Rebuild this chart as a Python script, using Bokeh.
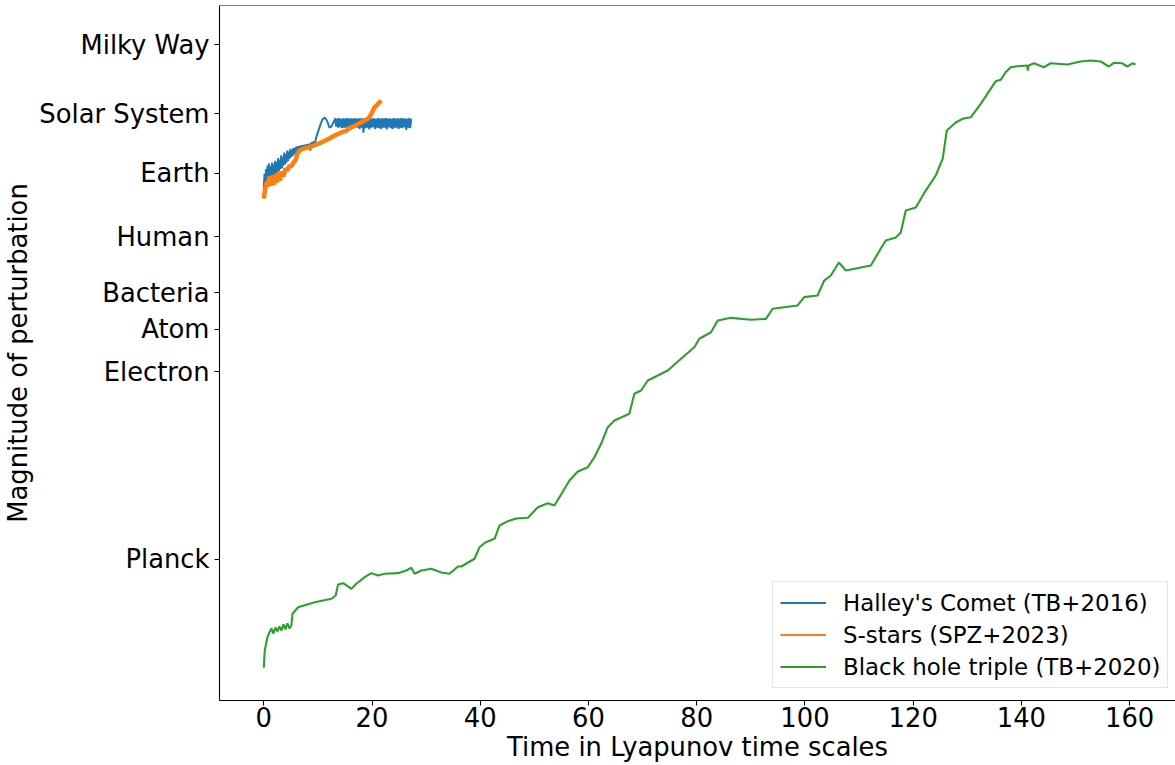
from bokeh.plotting import figure
from bokeh.models import Range1d, FixedTicker, Span
from bokeh.embed import file_html
from bokeh.resources import INLINE

# ---- axis ticks (y in log10 of length in metres) ----
y_tick_values = [-34.79, -14.46, -9.87, -5.87, 0.20, 7.03, 13.49, 21.0]
y_tick_labels = ["Planck", "Electron", "Atom", "Bacteria", "Human", "Earth",
                 "Solar System", "Milky Way"]
x_tick_values = [0, 20, 40, 60, 80, 100, 120, 140, 160]

# ---- Halley's Comet (TB+2016) ----
halley_x = [0.00, 0.14, 0.28, 0.42, 0.56, 0.70, 0.84, 0.98, 1.12, 1.26, 1.40, 1.54,
            1.68, 1.82, 1.96, 2.10, 2.24, 2.38, 2.52, 2.66, 2.80, 2.94, 3.08, 3.22,
            3.36, 3.50, 3.64, 3.78, 3.92, 4.06, 4.20, 4.34, 4.48, 4.62, 4.76, 4.90,
            5.04, 5.18, 5.32, 5.46, 5.60, 5.74, 5.88, 6.02,
            6.20, 6.40, 6.60, 6.80, 7.00, 7.20, 7.40, 7.60, 7.80, 8.00, 8.20, 8.40,
            8.60, 8.80, 9.00, 9.20, 9.40,
            9.73, 10.10, 10.47, 10.84, 11.26, 11.67, 12.13, 12.50, 13.05,
            13.20, 13.38, 13.56, 13.74, 13.92, 14.10, 14.28, 14.46, 14.64, 14.82,
            15.00, 15.18, 15.36, 15.54, 15.72, 15.90, 16.08, 16.26, 16.44, 16.62,
            16.80, 16.98, 17.16, 17.34, 17.52, 17.70, 17.88, 18.06, 18.24, 18.42,
            18.60, 18.78, 18.96, 19.14, 19.32, 19.50, 19.68, 19.86, 20.04, 20.22,
            20.40, 20.58, 20.76, 20.94, 21.12, 21.30, 21.48, 21.66, 21.84, 22.02,
            22.20, 22.38, 22.56, 22.74, 22.92, 23.10, 23.28, 23.46, 23.64, 23.82,
            24.00, 24.18, 24.36, 24.54, 24.72, 24.90, 25.08, 25.26, 25.44, 25.62,
            25.80, 25.98, 26.16, 26.34, 26.52, 26.70, 26.88, 27.06, 27.24]
halley_y = [5.40, 7.00, 6.00, 7.50, 6.30, 7.90, 6.40, 8.10, 6.60, 7.80, 6.50, 8.20,
            6.80, 8.00, 6.90, 8.40, 7.00, 8.30, 7.10, 8.70, 7.30, 8.50, 7.50, 9.00,
            7.60, 8.80, 7.90, 9.30, 8.00, 9.10, 8.20, 9.50, 8.40, 9.40, 8.60, 9.70,
            8.80, 9.60, 8.90, 9.80, 9.10, 9.80, 9.20, 9.95,
            9.40, 10.00, 9.50, 10.05, 9.60, 10.10, 9.70, 10.15, 9.70, 10.20, 9.80, 10.25,
            9.50, 10.40, 10.00, 10.50, 10.20,
            11.03, 11.68, 12.33, 12.88, 13.09, 12.77, 12.01, 12.12, 12.77,
            13.00, 12.10, 12.98, 12.00, 13.02, 12.05, 12.96, 11.95, 13.00, 12.00,
            12.98, 12.00, 13.03, 12.10, 12.97, 11.85, 13.00, 12.00, 12.98, 11.95,
            13.02, 12.05, 12.96, 12.00, 13.00, 11.85, 12.98, 12.00, 13.02, 11.45,
            12.95, 11.95, 13.00, 12.00, 12.97, 11.80, 13.02, 12.00, 12.98, 12.05,
            13.00, 11.85, 12.96, 12.00, 13.03, 11.95, 12.98, 11.85, 13.00, 12.00,
            12.97, 12.00, 13.02, 11.80, 12.98, 12.05, 13.00, 11.95, 12.96, 11.85,
            13.03, 12.00, 12.98, 12.00, 13.00, 11.85, 12.97, 12.00, 13.02, 11.95,
            12.98, 12.05, 13.00, 11.75, 12.96, 12.00, 13.02, 11.95, 12.98]

# ---- S-stars (SPZ+2023) ----
sstars_x = [0.00, 0.22, 0.50, 0.78, 1.05, 1.33, 1.61, 1.88, 2.16, 2.44, 2.71, 2.99,
            3.27, 3.64, 4.01, 4.37, 4.74, 5.11, 5.48, 5.85, 6.22, 6.59, 7.33, 8.07,
            8.80, 10.04, 11.02, 12.13, 13.11, 14.34, 15.27, 16.19, 17.30, 18.64, 19.33,
            19.88, 20.49, 20.99, 21.36, 21.73]
sstars_y = [4.32, 5.18, 6.05, 5.62, 6.70, 5.72, 6.81, 5.83, 6.92, 6.05, 7.13, 6.27,
            7.24, 6.70, 7.57, 7.35, 7.89, 7.78, 8.22, 8.43, 9.19, 9.52, 9.73, 9.84,
            9.95, 10.24, 10.49, 10.82, 11.14, 11.47, 11.68, 12.04, 12.33, 12.77, 12.98,
            13.49, 14.21, 14.50, 14.72, 14.93]

# ---- Black hole triple (TB+2020) ----
bht_x = [0.00, 0.18, 0.68, 1.05, 1.42, 1.79, 2.16, 2.53, 2.90, 3.27, 3.64, 4.01,
         4.37, 4.74, 5.11, 5.30, 6.35, 9.41, 12.50, 13.29, 13.73, 14.66, 15.58, 16.19,
         17.11, 18.64, 19.88, 21.12, 22.34, 24.81, 26.34, 27.26, 27.87, 29.11, 30.96,
         32.80, 34.33, 35.88, 36.49, 38.95, 39.87, 40.92, 42.64, 43.56, 45.11, 46.65,
         48.80, 50.65, 52.50, 53.71, 54.64, 56.48, 58.03, 59.88, 61.10, 62.33, 63.57,
         64.79, 67.56, 68.48, 69.72, 70.96, 74.65, 77.10, 79.56, 80.48, 82.64, 83.88,
         86.33, 90.02, 92.79, 94.03, 98.64, 99.86, 102.33, 103.55, 104.79, 106.26,
         107.56, 110.33, 112.17, 114.02, 114.94, 116.79, 117.71, 118.63, 120.48, 122.32,
         124.17, 125.46, 126.20, 127.86, 129.10, 130.63, 132.48, 133.71, 135.25, 136.17,
         137.09, 138.01, 139.25, 141.10, 141.15, 141.34, 142.32, 144.16, 145.40, 148.48,
         150.94, 152.78, 154.63, 156.16, 157.08, 158.63, 159.56, 160.48, 161.09]
bht_y = [-46.52, -44.65, -43.21, -42.70, -42.26, -42.81, -42.16, -42.59, -42.05, -42.48,
         -41.83, -42.37, -41.72, -42.26, -41.94, -40.67, -39.96, -39.42, -39.05, -38.69,
         -37.50, -37.36, -37.71, -37.97, -37.42, -36.71, -36.27, -36.52, -36.34, -36.27,
         -35.98, -35.69, -36.34, -35.98, -35.80, -36.20, -36.34, -35.55, -35.55, -34.71,
         -33.46, -32.95, -32.55, -31.11, -30.64, -30.35, -30.27, -29.13, -28.69, -28.94,
         -28.04, -26.23, -25.26, -24.79, -23.71, -22.26, -20.46, -19.73, -19.01, -16.84,
         -16.48, -15.40, -14.32, -13.05, -11.79, -10.88, -10.17, -8.90, -8.61, -8.82,
         -8.72, -7.63, -7.27, -6.37, -6.19, -4.57, -4.02, -2.62, -3.48, -3.16, -2.94,
         -1.10, -0.23, 0.09, 0.63, 3.02, 3.34, 5.18, 6.81, 8.65, 11.68, 12.55, 12.95,
         13.12, 14.58, 15.66, 17.03, 17.18, 18.00, 18.54, 18.65, 18.73, 18.18, 18.73,
         18.97, 18.54, 18.97, 18.83, 19.16, 19.27, 19.16, 18.62, 19.02, 18.97, 18.62,
         18.97, 18.83]

FONT = "DejaVu Sans"
Y_TOP = 25.23
Y_BOTTOM = -50.07

p = figure(width=1175, height=765, output_backend="svg", toolbar_location=None,
           x_range=Range1d(-8.18, 168.47), y_range=Range1d(Y_BOTTOM, Y_TOP),
           min_border_left=218, min_border_right=0, min_border_top=5,
           min_border_bottom=65)

p.line(halley_x, halley_y, color="#1f77b4", line_width=2.0,
       legend_label="Halley's Comet (TB+2016)")
p.line(sstars_x, sstars_y, color="#ff7f0e", line_width=4.5)
p.line(sstars_x, sstars_y, color="#ff7f0e", line_width=2.0,
       legend_label="S-stars (SPZ+2023)")
p.line(bht_x, bht_y, color="#2ca02c", line_width=2.1,
       legend_label="Black hole triple (TB+2020)")

p.outline_line_color = None
p.xgrid.visible = False
p.ygrid.visible = False
p.add_layout(Span(location=Y_TOP, dimension="width", line_color="black", line_width=1.2))

p.xaxis.ticker = FixedTicker(ticks=x_tick_values)
p.yaxis.ticker = FixedTicker(ticks=y_tick_values)
p.yaxis.major_label_overrides = dict(zip(y_tick_values, y_tick_labels))
p.xaxis.axis_label = "Time in Lyapunov time scales"
p.yaxis.axis_label = "Magnitude of perturbation"

for ax in (p.xaxis[0], p.yaxis[0]):
    ax.axis_line_color = "black"
    ax.axis_line_width = 1.1
    ax.major_tick_line_color = "black"
    ax.major_tick_line_width = 1.1
    ax.major_tick_out = 5
    ax.major_tick_in = 0
    ax.minor_tick_line_color = None
    ax.major_label_text_font = FONT
    ax.major_label_text_font_size = "25.8px"
    ax.major_label_text_color = "black"
    ax.axis_label_text_font = FONT
    ax.axis_label_text_font_size = "25.8px"
    ax.axis_label_text_font_style = "normal"
    ax.axis_label_text_color = "black"

p.xaxis.major_label_standoff = 1
p.xaxis.axis_label_standoff = 2
p.yaxis.major_label_standoff = 5
p.yaxis.axis_label_standoff = 3

lg = p.legend[0]
lg.location = (553, 12)
lg.margin = 0
lg.padding = 7
lg.spacing = 5
lg.glyph_width = 46
lg.glyph_height = 27
lg.label_height = 27
lg.label_standoff = 17
lg.label_text_font = FONT
lg.label_text_font_size = "22.9px"
lg.label_text_color = "black"
lg.border_line_color = "#cccccc"
lg.border_line_width = 1
lg.background_fill_alpha = 0.8

open("out.html", "w").write(file_html(p, INLINE))
